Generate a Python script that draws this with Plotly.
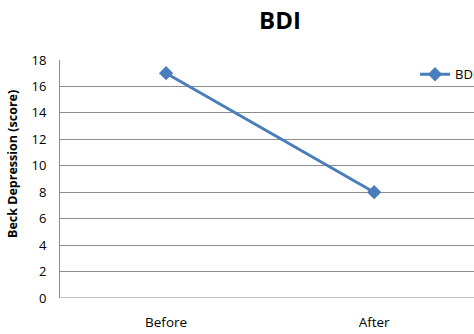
import plotly.graph_objects as go

categories = ["Before", "After"]
bdi_values = [17, 8]
y_ticks = list(range(0, 19, 2))

FONT = "Open Sans"
GRID = "#8c8c8c"
W, H = 474, 334

fig = go.Figure()
fig.add_trace(go.Scatter(
    x=categories, y=bdi_values, mode="lines+markers", name="BDI",
    line=dict(color="#4a7ebb", width=3),
    marker=dict(symbol="diamond", size=11, color="#4a7ebb"),
))

fig.update_layout(
    width=W, height=H,
    margin=dict(l=60, r=0, t=60, b=36, autoexpand=False),
    paper_bgcolor="white", plot_bgcolor="white",
    font=dict(family=FONT, color="#000000", size=12),
    title=dict(text="<b>BDI</b>", x=280 / W, xanchor="center", y=1 - 21 / H, yanchor="middle",
               font=dict(family=FONT, size=24, color="#000")),
    showlegend=True,
    legend=dict(x=0.8575, xanchor="left", y=0.94, yanchor="middle",
                bgcolor="rgba(0,0,0,0)", font=dict(family=FONT, size=13),
                itemwidth=30),
    xaxis=dict(type="category", range=[-0.51, 1.48], showgrid=False,
               showline=False, zeroline=False, ticks="",
               ticklabelstandoff=14, tickfont=dict(family=FONT, size=13.5)),
    yaxis=dict(range=[0, 18], tickvals=y_ticks, showgrid=True, gridcolor=GRID,
               gridwidth=1, zeroline=False, showline=True, linecolor=GRID,
               linewidth=1, ticks="", ticklabelstandoff=10,
               tickfont=dict(family=FONT, size=13)),
)
# y-axis title placed as in the reference (not centered on the plot area)
fig.add_annotation(
    text="<b>Beck Depression (score)</b>", textangle=-90,
    xref="paper", yref="paper",
    x=-47.5 / 414, y=(298 - 164.5) / 238,
    xanchor="center", yanchor="middle", showarrow=False,
    font=dict(family=FONT, size=12.5, color="#000"),
)
fig.add_hline(y=0, line=dict(color=GRID, width=1))

fig.write_html("out.html")
